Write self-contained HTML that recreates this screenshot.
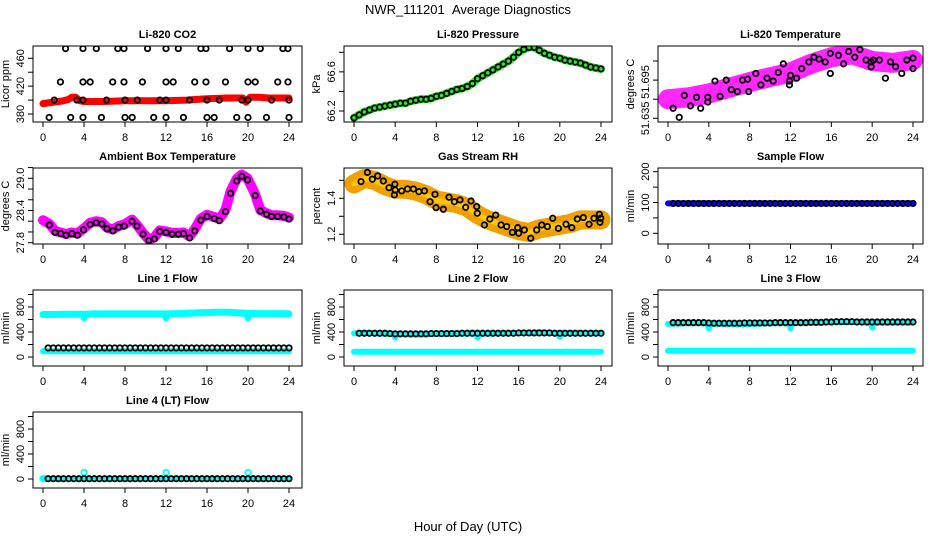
<!DOCTYPE html>
<html><head><meta charset="utf-8"><style>
html,body{margin:0;padding:0;background:#fff;}
svg{display:block;font-family:"Liberation Sans",Arial,sans-serif;}
</style></head><body>
<svg id="c" width="936" height="540" viewBox="0 0 936 540" xmlns="http://www.w3.org/2000/svg">
<rect width="936" height="540" fill="#fff"/>
<text x="468" y="14" text-anchor="middle" font-size="13">NWR_111201&#160;&#160;Average Diagnostics</text>
<text x="468" y="531" text-anchor="middle" font-size="13">Hour of Day (UTC)</text>
</svg>
<script>
// ---- data ----
const co2RedHours=[0,0.5,1,1.5,2,2.5,2.8,3.2,3.6,4,6,8,10,12,14,15,16,18,19.5,19.8,20.2,21,22,23,24];
const co2RedVals=[395,396,397,398,399,401,404,404,399,398,398,399,399,399,400,401,402,403,403,397,404,404,403,403,403];
const co2BlkHours=[2.2,3.9,5.2,7.3,7.9,10.2,12.0,13.2,15.4,15.9,18.2,20.0,21.2,23.4,23.9,1.7,3.9,4.6,6.8,7.9,9.7,12.0,12.7,14.8,15.9,17.8,20.0,20.7,22.9,23.9,0.6,2.7,3.9,5.7,8.0,8.7,10.8,12.0,13.7,16.0,16.7,18.9,20.0,21.8,24.0,1.1,3.3,3.9,6.2,8.0,9.2,11.4,12.0,14.3,16.0,17.2,19.4,20.0,22.3,24.0];
const co2BlkVals=[474,474,474,474,474,474,474,474,474,474,474,474,474,474,474,426,426,426,426,426,426,426,426,426,426,426,426,426,426,426,375,375,375,375,375,375,375,375,375,375,375,375,375,375,375,400,400,400,400,400,400,400,400,400,400,400,400,400,400,400];

const presHours=[0,0.5,1,1.5,2,2.5,3,3.5,4,4.5,5,5.5,6,6.5,7,7.5,8,8.5,9,9.5,10,10.5,11,11.5,12,12.5,13,13.5,14,14.5,15,15.5,16,16.5,17,17.5,18,18.5,19,19.5,20,20.5,21,21.5,22,22.5,23,23.5,24];
const presVals=[66.13,66.16,66.19,66.21,66.23,66.24,66.25,66.26,66.27,66.28,66.28,66.30,66.31,66.32,66.32,66.33,66.35,66.36,66.38,66.40,66.42,66.43,66.45,66.48,66.53,66.56,66.59,66.62,66.65,66.68,66.71,66.75,66.80,66.83,66.85,66.85,66.82,66.79,66.77,66.75,66.74,66.72,66.71,66.70,66.69,66.67,66.65,66.64,66.63];

const ltBandHours=[0,2,4,6,8,10,12,14,16,18,20,22,24];
const ltBandVals=[51.655,51.657,51.661,51.667,51.673,51.678,51.683,51.692,51.699,51.702,51.695,51.693,51.696];
const ltBlkHours=[0.5,1.1,1.6,2.2,2.8,3.2,3.9,3.9,4.6,5.1,5.7,6.2,6.8,7.3,7.8,7.9,8.6,9.1,9.7,10.3,10.8,11.3,11.9,11.9,12.0,12.6,13.1,13.8,14.3,14.8,15.4,15.9,15.9,16.7,17.2,17.7,18.3,18.8,19.4,19.9,19.9,20.1,20.7,21.3,21.8,22.3,22.9,23.4,24.0,24.0];
const ltBlkVals=[51.6455,51.636,51.659,51.648,51.657,51.6455,51.652,51.657,51.674,51.658,51.675,51.665,51.663,51.675,51.676,51.663,51.682,51.670,51.677,51.674,51.683,51.692,51.674,51.670,51.680,51.677,51.687,51.694,51.699,51.697,51.694,51.682,51.703,51.701,51.692,51.705,51.699,51.707,51.696,51.694,51.689,51.696,51.696,51.677,51.694,51.689,51.682,51.696,51.698,51.687];

const ambHours=[0.62,1.18,1.73,2.25,2.81,3.36,3.95,4.6,5.19,5.75,6.24,6.82,7.38,7.93,8.68,9.17,9.76,10.32,10.87,11.39,12.0,12.6,13.2,13.7,14.3,14.8,15.4,16.0,16.7,17.2,17.8,18.3,18.9,19.4,19.95,20.7,21.2,21.8,22.3,22.9,23.5,24.0];
const ambVals=[28.13,27.99,27.97,27.94,27.97,27.94,28.04,28.14,28.17,28.15,28.06,28.02,28.09,28.11,28.20,28.11,27.96,27.84,27.87,28.01,27.99,27.96,27.96,27.97,27.89,28.02,28.22,28.29,28.25,28.21,28.38,28.72,28.95,29.04,28.97,28.68,28.39,28.33,28.29,28.29,28.28,28.24];
const ambBandHours=[0,0.62,1.18,1.73,2.25,2.81,3.36,3.95,4.6,5.19,5.75,6.24,6.82,7.38,7.93,8.68,9.17,9.76,10.32,10.87,11.39,12.0,12.6,13.2,13.7,14.3,14.8,15.4,16.0,16.7,17.2,17.8,18.3,18.9,19.4,19.95,20.7,21.2,21.8,22.3,22.9,23.5,24.0];
const ambBandVals=[28.22,28.15,28.02,27.99,27.96,27.99,27.97,28.06,28.17,28.20,28.18,28.08,28.05,28.11,28.14,28.23,28.13,27.98,27.86,27.90,28.03,28.01,27.98,27.98,27.99,27.92,28.05,28.25,28.32,28.28,28.24,28.41,28.76,28.99,29.07,29.00,28.70,28.41,28.35,28.31,28.31,28.30,28.27];

const rhBandHours=[0,1,2,3,4,5,6,7,8,9,10,11,12,13,14,15,16,17,18,19,20,21,22,23,24];
const rhBandVals=[1.48,1.51,1.50,1.47,1.45,1.45,1.44,1.42,1.39,1.38,1.37,1.35,1.31,1.28,1.26,1.24,1.22,1.21,1.23,1.24,1.25,1.26,1.28,1.28,1.28];
const rhBlkHours=[0.68,1.3,1.78,2.3,2.85,3.4,3.92,3.97,4.0,4.63,5.2,5.77,6.3,6.84,7.39,7.87,7.97,8.68,9.23,9.75,10.3,10.85,11.37,11.92,11.98,12.67,13.2,13.77,14.29,14.84,15.39,15.91,16.0,16.55,17.17,17.75,18.24,18.79,19.31,19.86,20.6,21.16,21.7,22.28,22.84,23.32,23.84,23.97,23.9];
const rhBlkVals=[1.493,1.544,1.506,1.524,1.496,1.459,1.419,1.478,1.446,1.441,1.452,1.452,1.437,1.441,1.381,1.422,1.348,1.339,1.406,1.381,1.391,1.350,1.385,1.354,1.317,1.252,1.285,1.307,1.252,1.243,1.211,1.237,1.206,1.224,1.178,1.224,1.252,1.243,1.289,1.233,1.256,1.237,1.285,1.293,1.256,1.289,1.311,1.289,1.267];

const flowHours=[0.5,1.0,1.5,2.0,2.5,3.0,3.5,4.0,4.5,5.0,5.5,6.0,6.5,7.0,7.5,8.0,8.5,9.0,9.5,10.0,10.5,11.0,11.5,12.0,12.5,13.0,13.5,14.0,14.5,15.0,15.5,16.0,16.5,17.0,17.5,18.0,18.5,19.0,19.5,20.0,20.5,21.0,21.5,22.0,22.5,23.0,23.5,24.0];
const sampleBlkVals=[97,97,97,97,97,97,97,97,97,97,97,97,97,97,97,97,97,97,97,97,97,97,97,97,97,97,97,97,97,97,97,97,97,97,97,97,97,97,97,97,97,97,97,97,97,97,97,97];
const sampleBlueHours=[0,24];
const sampleBlueVals=[97,97];

const cyanHours=[0,1,2,3,3.9,4,4.1,5,6,7,8,9,10,11,11.9,12,12.1,13,14,15,16,17,18,19,19.9,20,20.1,21,22,23,24];
const line1CyanHi=[680,680,685,685,685,630,685,690,690,690,690,690,690,690,690,630,690,695,700,705,710,715,715,705,700,630,700,695,695,695,690];
const line1BlkVals=[145,145,145,145,145,145,145,145,145,145,145,145,145,145,145,145,145,145,145,145,145,145,145,145,145,145,145,145,145,145,145,145,145,145,145,145,145,145,145,145,145,145,145,145,145,145,145,145];
const line2CyanHi=[380,385,380,375,370,310,370,365,360,365,370,370,375,375,375,310,375,375,380,380,385,390,395,385,380,320,380,380,380,380,380];
const line2BlkVals=[380,380,380,380,380,380,375,370,370,370,370,370,370,370,375,375,375,375,375,375,380,380,380,380,380,380,380,380,380,380,380,385,385,385,385,385,385,385,380,380,380,380,380,380,380,380,380,380];
const line3CyanHi=[530,535,540,540,535,460,530,530,525,525,530,535,540,540,540,460,540,545,545,550,555,560,560,555,550,470,550,550,550,550,550];
const line3BlkVals=[550,550,550,550,550,550,550,545,540,540,540,540,540,540,545,545,545,545,545,545,550,550,550,550,550,550,550,555,555,555,560,560,565,565,565,565,560,560,560,560,560,560,560,560,560,560,560,560];
const lowHours=[0,24];
const line1CyanLo=[92,92];
const line2CyanLo=[85,85];
const line3CyanLo=[100,100];
const line4CyanLo=[5,5];
const line4SpikeHours=[0,0.2,4,12,20];
const line4SpikeVals=[5,5,105,105,105];
const line4BlkVals=[5,5,5,5,5,5,5,5,5,5,5,5,5,5,5,5,5,5,5,5,5,5,5,5,5,5,5,5,5,5,5,5,5,5,5,5,5,5,5,5,5,5,5,5,5,5,5,5];
const xTicks=[0,4,8,12,16,20,24];

// ---- drawing ----
const svg=document.getElementById('c');
const NS='http://www.w3.org/2000/svg';
const boxL=[33,344,658], boxR=[302,612,923], xZero=[43,354,668], xSpan=[246,247,245];
function mk(tag,attrs,parent){const e=document.createElementNS(NS,tag);for(const k in attrs)e.setAttribute(k,attrs[k]);(parent||svg).appendChild(e);return e;}

function panel(cfg){
  const top=46+122*cfg.row, bot=top+76;
  const L=boxL[cfg.col], R=boxR[cfg.col];
  const g=mk('g',{});
  
  
  const X=h=>xZero[cfg.col]+h*xSpan[cfg.col]/24;
  const Y=v=>cfg.p1+(v-cfg.v1)*(cfg.p2-cfg.p1)/(cfg.v2-cfg.v1);
  const clipId='clip'+cfg.name;
  const cp=mk('clipPath',{id:clipId},g);mk('rect',{x:L,y:top,width:R-L,height:bot-top},cp);
  const plot=mk('g',{'clip-path':'url(#'+clipId+')'},g);
  
  
  cfg.X=X;cfg.Y=Y;cfg.plot=plot;
  const box=mk('rect',{x:L,y:top,width:R-L,height:bot-top,fill:'none',stroke:'#000','stroke-width':1},g);
  
  
  const t=mk('text',{x:(L+R)/2,y:top-8,'text-anchor':'middle','font-size':11,'font-weight':'bold'},g);
  t.textContent=cfg.title;
  
  
  const xa=mk('g',{},g);
  
  
  mk('line',{x1:X(0),x2:X(24),y1:bot,y2:bot,stroke:'#000'},xa);
  xTicks.forEach(h=>{
    mk('line',{x1:X(h),x2:X(h),y1:bot,y2:bot+5,stroke:'#000'},xa);
    const tl=mk('text',{x:X(h),y:bot+19,'text-anchor':'middle','font-size':11},xa);
    tl.textContent=h;
    
    
  });
  const ya=mk('g',{},g);
  
  
  mk('line',{x1:L,x2:L,y1:Y(cfg.ticks[0]),y2:Y(cfg.ticks[cfg.ticks.length-1]),stroke:'#000'},ya);
  cfg.ticks.forEach(v=>mk('line',{x1:L-5,x2:L,y1:Y(v),y2:Y(v),stroke:'#000'},ya));
  cfg.labels.forEach((s,i)=>{
    const yy=Y(cfg.labelPos[i]);
    const tl=mk('text',{x:L-9,y:yy,'text-anchor':'middle','font-size':11,transform:'rotate(-90 '+(L-9)+' '+yy+')'},ya);
    tl.textContent=s;
    
    
  });
  const yt=mk('text',{x:L-24,y:(top+bot)/2,'text-anchor':'middle','font-size':11,transform:'rotate(-90 '+(L-24)+' '+((top+bot)/2)+')'},ya);
  yt.textContent=cfg.ylab;
  
  
  return cfg;
}
function band(cfg,hs,vs,color,w,name,op){
  const pts=hs.map((h,i)=>cfg.X(h).toFixed(1)+','+cfg.Y(vs[i]).toFixed(1)).join(' ');
  const p=mk('polyline',{points:pts,fill:'none',stroke:color,'stroke-width':w,'stroke-linejoin':'round','stroke-linecap':'round','stroke-opacity':op||1},cfg.plot);
  
  
}
function circles(cfg,hs,vs,color,name){
  hs.forEach((h,i)=>{
    const c=mk('circle',{cx:cfg.X(h),cy:cfg.Y(vs[i]),r:2.7,fill:'none',stroke:color,'stroke-width':1.8},cfg.plot);
    
    
  });
}
function flowCfg(name,title,col,row){
  return panel({name,title,col,row,ylab:'ml/min',v1:0,p1:357+122*(row-2),v2:800,p2:307+122*(row-2),
    ticks:[0,200,400,600,800,1000],labels:['0','400','800'],labelPos:[0,400,800]});
}

let p=panel({name:'co2',title:'Li-820 CO2',col:0,row:0,ylab:'Licor ppm',v1:380,p1:114,v2:460,p2:58.3,
  ticks:[380,400,420,440,460],labels:['380','420','460'],labelPos:[380,420,460]});
band(p,co2RedHours,co2RedVals,'#ff0000',7,'co2-red-series');
circles(p,co2BlkHours,co2BlkVals,'#000','co2-point');

p=panel({name:'pressure',title:'Li-820 Pressure',col:1,row:0,ylab:'kPa',v1:66.2,p1:111,v2:66.8,p2:52.3,
  ticks:[66.2,66.4,66.6,66.8],labels:['66.2','66.6'],labelPos:[66.2,66.6]});
band(p,presHours,presVals,'#22ee22',8,'pressure-green-series');
circles(p,presHours,presVals,'#000','pressure-point');

p=panel({name:'li-temp',title:'Li-820 Temperature',col:2,row:0,ylab:'degrees C',v1:51.635,p1:118.3,v2:51.695,p2:61,
  ticks:[51.635,51.655,51.675,51.695],labels:['51.635','51.695'],labelPos:[51.635,51.673]});
band(p,ltBandHours,ltBandVals,'#ff00ff',20,'li-temp-magenta-series',0.85);
circles(p,ltBlkHours,ltBlkVals,'#000','li-temp-point');

p=panel({name:'ambient',title:'Ambient Box Temperature',col:0,row:1,ylab:'degrees C',v1:27.8,p1:242.7,v2:29.0,p2:178.3,
  ticks:[27.8,28.0,28.2,28.4,28.6,28.8,29.0,29.2],labels:['27.8','28.4','29.0'],labelPos:[27.8,28.4,29.0]});
band(p,ambBandHours,ambBandVals,'#ff00ff',10,'ambient-magenta-series');
circles(p,ambHours,ambVals,'#000','ambient-point');

p=panel({name:'rh',title:'Gas Stream RH',col:1,row:1,ylab:'percent',v1:1.2,p1:234.3,v2:1.4,p2:198.3,
  ticks:[1.2,1.3,1.4,1.5],labels:['1.2','1.4'],labelPos:[1.2,1.4]});
band(p,rhBandHours,rhBandVals,'#f0a000',19,'rh-orange-series');
band(p,rhBandHours,rhBandVals,'#ffc800',5,'rh-yellow-series');
circles(p,rhBlkHours,rhBlkVals,'#000','rh-point');

p=panel({name:'sample-flow',title:'Sample Flow',col:2,row:1,ylab:'ml/min',v1:0,p1:233.3,v2:200,p2:171.7,
  ticks:[0,50,100,150,200],labels:['0','100','200'],labelPos:[0,100,200]});
band(p,sampleBlueHours,sampleBlueVals,'#0000ff',6,'sample-flow-blue-series');
circles(p,flowHours,sampleBlkVals,'#000','sample-flow-point');

p=flowCfg('line1','Line 1 Flow',0,2);
band(p,cyanHours,line1CyanHi,'#00ffff',7,'line1-cyan-high');
band(p,lowHours,line1CyanLo,'#00ffff',6,'line1-cyan-low');
circles(p,flowHours,line1BlkVals,'#000','line1-point');

p=flowCfg('line2','Line 2 Flow',1,2);
band(p,lowHours,line2CyanLo,'#00ffff',6,'line2-cyan-low');
band(p,cyanHours,line2CyanHi,'#00ffff',6,'line2-cyan-high');
circles(p,flowHours,line2BlkVals,'#000','line2-point');

p=flowCfg('line3','Line 3 Flow',2,2);
band(p,lowHours,line3CyanLo,'#00ffff',6,'line3-cyan-low');
band(p,cyanHours,line3CyanHi,'#00ffff',6,'line3-cyan-high');
circles(p,flowHours,line3BlkVals,'#000','line3-point');

p=flowCfg('line4','Line 4 (LT) Flow',0,3);
band(p,lowHours,line4CyanLo,'#00ffff',5,'line4-cyan-low');
circles(p,line4SpikeHours,line4SpikeVals,'#00ffff','line4-cyan-point');
circles(p,flowHours,line4BlkVals,'#000','line4-point');
</script>
</body></html>
